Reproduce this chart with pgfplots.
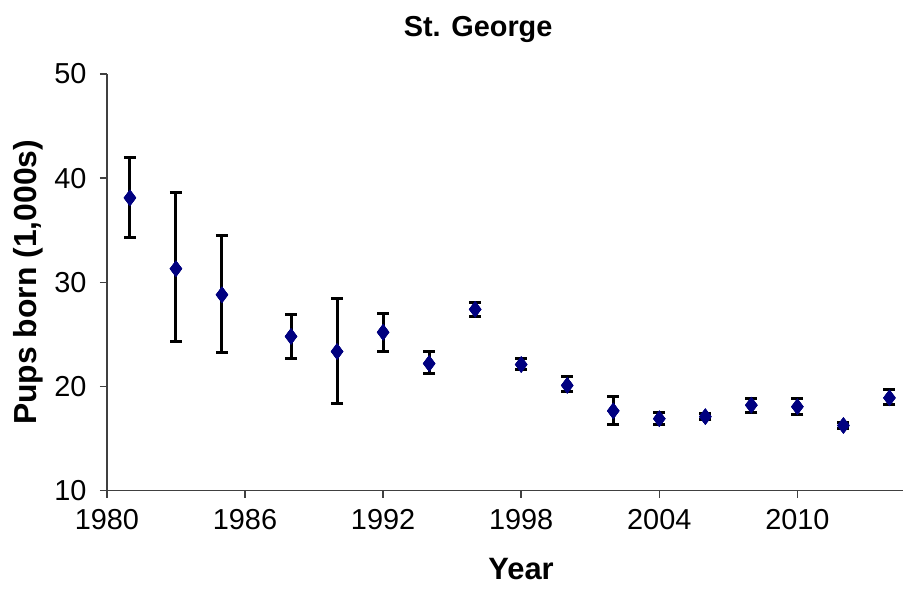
\documentclass[border=0pt]{standalone}
\usepackage{pgfplots}
\pgfplotsset{compat=1.18}
\usepackage{fontspec}
\setmainfont{Liberation Sans}
\definecolor{navy}{RGB}{0,0,128}
\begin{document}
\begin{tikzpicture}
\begin{axis}[name=ax, scale only axis, width=797bp, height=417bp,
  xmin=1980, xmax=2014.6, ymin=10, ymax=50,
  xtick={1980,1986,...,2010}, ytick={10,20,...,50},
  axis x line*=bottom, axis y line*=left,
  axis line style={line width=1.5pt, black!75}, tick style={black!75, line width=1.5pt},
  tick align=outside, major tick length=7bp,
  x tick label style={/pgf/number format/1000 sep={}, yshift=-8bp},
  y tick label style={xshift=-10bp},
  /pgf/number format/assume math mode=true,
  tick label style={font=\fontsize{29}{32}\selectfont},
  xlabel={\bfseries Year}, ylabel={\bfseries Pups born (1,000s)},
  xlabel style={font=\fontsize{31}{34}\selectfont, yshift=-22bp, xshift=16bp},
  ylabel style={font=\fontsize{32}{36}\selectfont, yshift=4bp},
  title={\bfseries St. George}, title style={font=\fontsize{29}{32}\selectfont, yshift=22bp, xshift=-27bp},
  clip=false]
\addplot[only marks, mark=diamond*, mark size=8bp, mark options={fill=navy, draw=navy},
  error bars/.cd, y dir=plus, y explicit, error bar style={black, line width=3pt},
  error mark options={rotate=90, mark size=6bp, line width=3pt, black}]
table[x=x, y=y, y error plus=p] {
x y p
1981 38.1 3.9
1983 31.3 7.3
1985 28.8 5.7
1988 24.8 2.1
1990 23.35 5.05
1992 25.2 1.8
1994 22.2 1.15
1996 27.4 0.7
1998 22.1 0.55
2000 20.1 0.9
2002 17.65 1.35
2004 16.9 0.55
2006 17.1 0.3
2008 18.2 0.65
2010 18.05 0.8
2012 16.25 0.3
2014 18.9 0.8
};
\addplot[only marks, mark=diamond*, mark size=8bp, mark options={fill=navy, draw=navy},
  error bars/.cd, y dir=minus, y explicit, error bar style={black, line width=3pt},
  error mark options={rotate=90, mark size=6bp, line width=3pt, black}]
table[x=x, y=y, y error minus=m] {
x y m
1981 38.1 3.8
1983 31.3 7.0
1985 28.8 5.5
1988 24.8 2.1
1990 23.35 4.95
1992 25.2 1.8
1994 22.2 1.0
1996 27.4 0.7
1998 22.1 0.5
2000 20.1 0.6
2002 17.65 1.35
2004 16.9 0.6
2006 17.1 0.3
2008 18.2 0.7
2010 18.05 0.75
2012 16.25 0.3
2014 18.9 0.65
};
\end{axis}
\useasboundingbox ([shift={(-107bp,-101bp)}]ax.south west) rectangle ([shift={(0bp,74bp)}]ax.north east);
\end{tikzpicture}
\end{document}
